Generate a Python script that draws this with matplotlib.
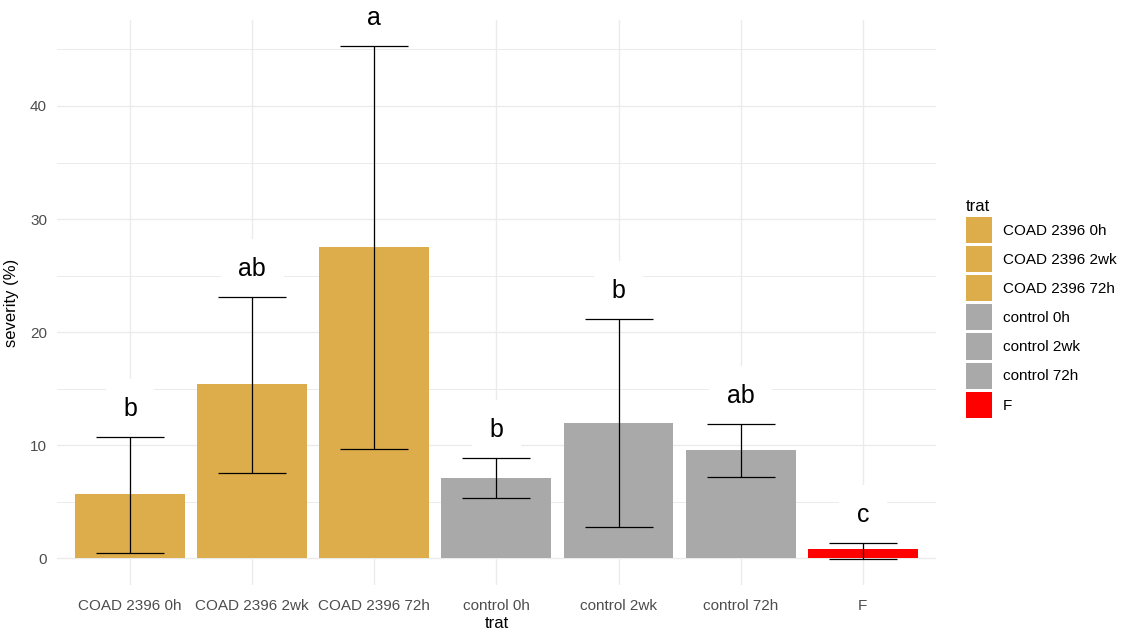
import matplotlib
matplotlib.use("Agg")
import matplotlib.pyplot as plt
from matplotlib.patches import Patch
from matplotlib.ticker import MultipleLocator

plt.rcParams['font.family'] = ['Liberation Sans', 'DejaVu Sans']

trat = ['COAD 2396 0h', 'COAD 2396 2wk', 'COAD 2396 72h',
        'control 0h', 'control 2wk', 'control 72h', 'F']
severity = [5.7, 15.4, 27.5, 7.1, 12.0, 9.55, 0.8]
err_low = [0.5, 7.5, 9.7, 5.3, 2.8, 7.15, -0.1]
err_high = [10.7, 23.1, 45.3, 8.85, 21.15, 11.85, 1.33]
letters = ['b', 'ab', 'a', 'b', 'b', 'ab', 'c']
colors = ['#DDAD4C', '#DDAD4C', '#DDAD4C', '#A9A9A9', '#A9A9A9', '#A9A9A9', '#FF0000']

fig = plt.figure(figsize=(11.21, 6.33), dpi=100)
ax = fig.add_axes([0.0506, 0.0758, 0.7844, 0.892])

x = list(range(len(trat)))
ax.bar(x, severity, width=0.9, color=colors, zorder=2)
yerr = [[s - lo for s, lo in zip(severity, err_low)],
        [hi - s for s, hi in zip(severity, err_high)]]
ax.errorbar(x, severity, yerr=yerr, fmt='none', ecolor='black',
            elinewidth=0.9, capsize=24.5, capthick=0.9, zorder=3)

# letters sit a fixed offset above the upper error bar
for xi, hi, lab in zip(x, err_high, letters):
    ax.text(xi, hi + 2.5, lab, ha='center', va='center', fontsize=18,
            color='black', zorder=2.5, clip_on=False,
            bbox=dict(boxstyle='square,pad=0.7', facecolor='white', edgecolor='none'))

ax.set_xlim(-0.6, len(trat) - 0.4)
ax.set_ylim(-2.37, 47.57)
ax.set_xticks(x)
ax.set_xticklabels(trat)
ax.yaxis.set_major_locator(MultipleLocator(10))
ax.yaxis.set_minor_locator(MultipleLocator(5))

ax.grid(True, which='major', color='#EBEBEB', linewidth=1.0, zorder=0)
ax.grid(True, which='minor', axis='y', color='#EBEBEB', linewidth=0.7, zorder=0)
ax.set_axisbelow(True)
for s in ax.spines.values():
    s.set_visible(False)
ax.tick_params(axis='both', which='both', length=0, labelsize=11, labelcolor='#4D4D4D')
ax.tick_params(axis='x', pad=10)
ax.tick_params(axis='y', pad=7)
ax.set_xlabel('trat', fontsize=12, labelpad=2)
ax.set_ylabel('severity (%)', fontsize=12, labelpad=8)

handles = [Patch(facecolor=c, edgecolor='none') for c in colors]
leg = ax.legend(handles, trat, title='trat', loc='center left',
                bbox_to_anchor=(1.027, 0.49), frameon=False, fontsize=11,
                title_fontsize=12, handlelength=1.7, handleheight=2.25,
                labelspacing=0.2, handletextpad=0.7, borderaxespad=0)
leg._legend_box.align = 'left'

fig.savefig('out.png', dpi=100)
